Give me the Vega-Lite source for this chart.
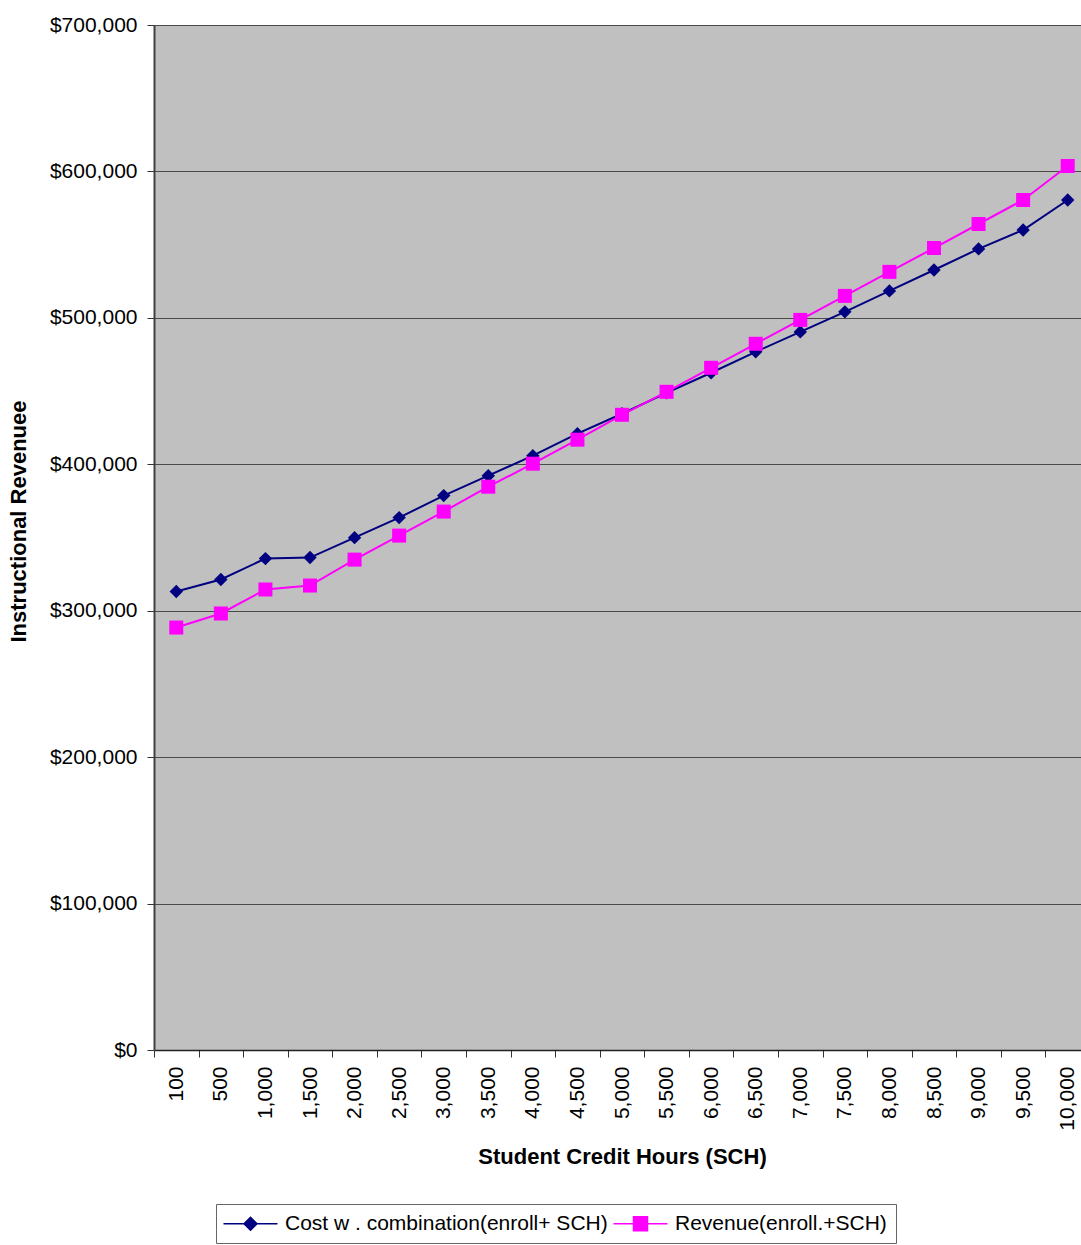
{
  "$schema": "https://vega.github.io/schema/vega-lite/v6.json",
  "autosize": "none",
  "width": 936,
  "height": 1025,
  "padding": {"left": 154, "top": 25, "right": -9, "bottom": 195},
  "background": "#ffffff",
  "config": {
    "view": {"fill": "#C0C0C0", "stroke": null},
    "font": "Liberation Sans"
  },
  "data": {
    "values": [
      {"sch": "100", "series": "Cost w . combination(enroll+ SCH)", "value": 313100},
      {"sch": "500", "series": "Cost w . combination(enroll+ SCH)", "value": 321300},
      {"sch": "1,000", "series": "Cost w . combination(enroll+ SCH)", "value": 335600},
      {"sch": "1,500", "series": "Cost w . combination(enroll+ SCH)", "value": 336300},
      {"sch": "2,000", "series": "Cost w . combination(enroll+ SCH)", "value": 349900},
      {"sch": "2,500", "series": "Cost w . combination(enroll+ SCH)", "value": 363600},
      {"sch": "3,000", "series": "Cost w . combination(enroll+ SCH)", "value": 378600},
      {"sch": "3,500", "series": "Cost w . combination(enroll+ SCH)", "value": 392200},
      {"sch": "4,000", "series": "Cost w . combination(enroll+ SCH)", "value": 405900},
      {"sch": "4,500", "series": "Cost w . combination(enroll+ SCH)", "value": 420900},
      {"sch": "5,000", "series": "Cost w . combination(enroll+ SCH)", "value": 434500},
      {"sch": "5,500", "series": "Cost w . combination(enroll+ SCH)", "value": 448800},
      {"sch": "6,000", "series": "Cost w . combination(enroll+ SCH)", "value": 462500},
      {"sch": "6,500", "series": "Cost w . combination(enroll+ SCH)", "value": 476800},
      {"sch": "7,000", "series": "Cost w . combination(enroll+ SCH)", "value": 490400},
      {"sch": "7,500", "series": "Cost w . combination(enroll+ SCH)", "value": 504100},
      {"sch": "8,000", "series": "Cost w . combination(enroll+ SCH)", "value": 518400},
      {"sch": "8,500", "series": "Cost w . combination(enroll+ SCH)", "value": 532700},
      {"sch": "9,000", "series": "Cost w . combination(enroll+ SCH)", "value": 547100},
      {"sch": "9,500", "series": "Cost w . combination(enroll+ SCH)", "value": 560000},
      {"sch": "10,000", "series": "Cost w . combination(enroll+ SCH)", "value": 580500},
      {"sch": "100", "series": "Revenue(enroll.+SCH)", "value": 288500},
      {"sch": "500", "series": "Revenue(enroll.+SCH)", "value": 298100},
      {"sch": "1,000", "series": "Revenue(enroll.+SCH)", "value": 314500},
      {"sch": "1,500", "series": "Revenue(enroll.+SCH)", "value": 317200},
      {"sch": "2,000", "series": "Revenue(enroll.+SCH)", "value": 334900},
      {"sch": "2,500", "series": "Revenue(enroll.+SCH)", "value": 351300},
      {"sch": "3,000", "series": "Revenue(enroll.+SCH)", "value": 367700},
      {"sch": "3,500", "series": "Revenue(enroll.+SCH)", "value": 384700},
      {"sch": "4,000", "series": "Revenue(enroll.+SCH)", "value": 400400},
      {"sch": "4,500", "series": "Revenue(enroll.+SCH)", "value": 416800},
      {"sch": "5,000", "series": "Revenue(enroll.+SCH)", "value": 433800},
      {"sch": "5,500", "series": "Revenue(enroll.+SCH)", "value": 449500},
      {"sch": "6,000", "series": "Revenue(enroll.+SCH)", "value": 465900},
      {"sch": "6,500", "series": "Revenue(enroll.+SCH)", "value": 482300},
      {"sch": "7,000", "series": "Revenue(enroll.+SCH)", "value": 498600},
      {"sch": "7,500", "series": "Revenue(enroll.+SCH)", "value": 515000},
      {"sch": "8,000", "series": "Revenue(enroll.+SCH)", "value": 531400},
      {"sch": "8,500", "series": "Revenue(enroll.+SCH)", "value": 547700},
      {"sch": "9,000", "series": "Revenue(enroll.+SCH)", "value": 564100},
      {"sch": "9,500", "series": "Revenue(enroll.+SCH)", "value": 580500},
      {"sch": "10,000", "series": "Revenue(enroll.+SCH)", "value": 603700}
    ]
  },
  "encoding": {
    "x": {
      "field": "sch",
      "type": "ordinal",
      "sort": null,
      "scale": {"type": "band", "paddingInner": 0, "paddingOuter": 0},
      "axis": {
        "title": "Student Credit Hours (SCH)",
        "titleFont": "Liberation Sans",
        "titleFontSize": 22,
        "titleFontWeight": "bold",
        "titleColor": "#000000",
        "titlePadding": 16,
        "labelAngle": -90,
        "labelFont": "Liberation Sans",
        "labelFontSize": 21,
        "labelColor": "#000000",
        "labelPadding": 9,
        "tickBand": "extent",
        "tickSize": 7,
        "tickColor": "#333333",
        "domainColor": "#222222",
        "domainWidth": 1.5,
        "grid": false
      }
    },
    "y": {
      "field": "value",
      "type": "quantitative",
      "scale": {"domain": [0, 700000], "nice": false},
      "axis": {
        "title": "Instructional Revenuee",
        "titleFont": "Liberation Sans",
        "titleFontSize": 22,
        "titleFontWeight": "bold",
        "titleColor": "#000000",
        "titlePadding": 19,
        "titleY": 496,
        "values": [0, 100000, 200000, 300000, 400000, 500000, 600000, 700000],
        "format": "$,.0f",
        "labelFont": "Liberation Sans",
        "labelFontSize": 21,
        "labelColor": "#000000",
        "labelPadding": 10,
        "tickSize": 7,
        "tickColor": "#333333",
        "domainColor": "#404040",
        "domainWidth": 2,
        "grid": true,
        "gridColor": "#4a4a4a",
        "gridWidth": 1
      }
    },
    "color": {
      "field": "series",
      "type": "nominal",
      "scale": {
        "domain": ["Cost w . combination(enroll+ SCH)", "Revenue(enroll.+SCH)"],
        "range": ["#000080", "#FF00FF"]
      },
      "legend": {
        "title": null,
        "orient": "none",
        "legendX": 62,
        "legendY": 1179,
        "direction": "horizontal",
        "strokeColor": "#666666",
        "fillColor": "#ffffff",
        "padding": 9,
        "labelFont": "Liberation Sans",
        "labelFontSize": 21,
        "labelColor": "#000000",
        "labelLimit": 0,
        "symbolSize": 100,
        "symbolOffset": 15,
        "labelOffset": 24,
        "columnPadding": 2,
        "symbolStrokeWidth": 1.5,
        "encode": {
          "symbols": {
            "update": {
              "shape": {"signal": "datum.value === 'Revenue(enroll.+SCH)' ? 'M-5.4,0H-1.4V-1.4H1.4V1.4H-1.4V0M1.4,0H5.4' : 'M-5.4,0H-1.3L0,-1.3L1.3,0L0,1.3L-1.3,0M1.3,0H5.4'"},
              "fill": {"signal": "datum.value === 'Revenue(enroll.+SCH)' ? '#FF00FF' : '#000080'"},
              "stroke": {"signal": "datum.value === 'Revenue(enroll.+SCH)' ? '#FF00FF' : '#000080'"},
              "strokeWidth": {"value": 1.5},
              "opacity": {"value": 1}
            }
          }
        }
      }
    }
  },
  "layer": [
    {
      "mark": {"type": "line", "strokeWidth": 2}
    },
    {
      "transform": [{"filter": "datum.series === 'Cost w . combination(enroll+ SCH)'"}],
      "mark": {"type": "point", "shape": "diamond", "size": 180, "filled": true, "opacity": 1}
    },
    {
      "transform": [{"filter": "datum.series === 'Revenue(enroll.+SCH)'"}],
      "mark": {"type": "point", "shape": "square", "size": 196, "filled": true, "opacity": 1}
    }
  ]
}
